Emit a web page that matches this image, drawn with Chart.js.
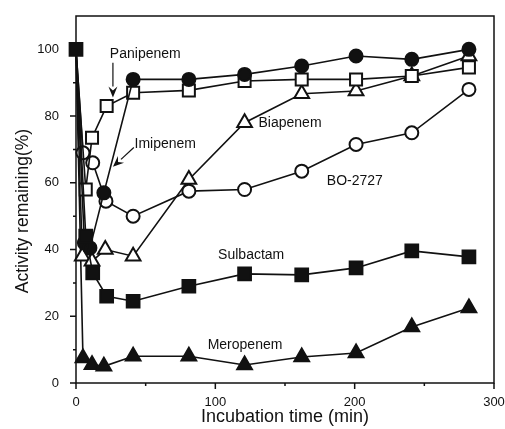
<!DOCTYPE html>
<html>
<head>
<meta charset="utf-8">
<script src="https://cdn.jsdelivr.net/npm/chart.js@4.4.1/dist/chart.umd.min.js"></script>
<style>
  html, body { margin: 0; padding: 0; background: #fff; }
  canvas { display: block; }
</style>
</head>
<body>
<canvas id="chart" width="505" height="429"></canvas>
<script>
// Incubation time (min) and activity remaining (%)
const sulbactamT = [0, 7, 12, 22, 41, 81, 121, 162, 201, 241, 282];
const sulbactamV = [100, 44, 33, 26, 24.5, 29, 32.7, 32.4, 34.5, 39.6, 37.8];

const imipenemT = [0, 6, 10, 20, 41, 81, 121, 162, 201, 241, 282];
const imipenemV = [100, 42, 40.5, 57, 91, 91, 92.5, 95, 98, 97, 100];

const panipenemT = [0, 7, 11.5, 22, 41, 81, 121, 162, 201, 241, 282];
const panipenemV = [100, 58, 73.5, 83, 87, 87.7, 90.5, 91, 91, 92, 94.6];

const biapenemT = [0, 4.5, 11.5, 21, 41, 81, 121, 162, 201, 241, 282];
const biapenemV = [100, 38, 36.5, 40, 38, 61, 78, 86.7, 87.5, 92, 98];

const bo2727T = [0, 5, 12, 21.5, 41, 81, 121, 162, 201, 241, 282];
const bo2727V = [100, 69, 66, 54.5, 50, 57.5, 58, 63.5, 71.5, 75, 88];

const meropenemT = [0, 5, 11.5, 20, 41, 81, 121, 162, 201, 241, 282];
const meropenemV = [100, 7.5, 5.5, 5, 8, 8, 5.4, 7.8, 9, 16.8, 22.5];

const yTickValues = [0, 20, 40, 60, 80, 100];
const xTickValues = [0, 100, 200, 300];

// labels written inside the plot (data coordinates)
const notes = [
    { text: 'Panipenem', x: 24.3, y: 98.5 },
    { text: 'Imipenem', x: 42, y: 71.5 },
    { text: 'Biapenem', x: 131, y: 77.8 },
    { text: 'BO-2727', x: 180, y: 60.4 },
    { text: 'Sulbactam', x: 102, y: 38.4 },
    { text: 'Meropenem', x: 94.5, y: 11.4 }
];
// arrows: from (x1,y1) to tip (x2,y2)
const arrows = [
    { x1: 26.5, y1: 96, x2: 26.5, y2: 85.6 },
    { x1: 41.5, y1: 70.6, x2: 26.5, y2: 64.8 }
];

const ink = '#111';
const fontName = "'Liberation Sans', Arial, sans-serif";

function toPoints(ts, vs) {
    return ts.map((t, i) => ({ x: t, y: vs[i] }));
}

// only sulbactam shows its marker at time 0, the others just start their line there
function series(label, ts, vs, style, filled, radius, showStart) {
    return {
        label: label,
        data: toPoints(ts, vs),
        showLine: true,
        borderColor: ink,
        borderWidth: 1.6,
        pointStyle: style,
        pointRadius: c => (c.dataIndex === 0 && !showStart) ? 0 : radius,
        pointBorderWidth: 2,
        pointBorderColor: ink,
        pointBackgroundColor: filled ? ink : '#fff',
        clip: false
    };
}

// frame, tick marks, y title, notes and arrows
const extras = {
    id: 'extras',
    beforeDatasetsDraw(chart) {
        const ctx = chart.ctx;
        const a = chart.chartArea;
        const xs = chart.scales.x, ys = chart.scales.y;
        ctx.save();
        ctx.strokeStyle = ink;
        ctx.lineWidth = 1.5;
        ctx.strokeRect(a.left, a.top, a.right - a.left, a.bottom - a.top);
        ctx.beginPath();
        for (let v = 0; v <= 100; v += 10) {
            const y = ys.getPixelForValue(v);
            const len = v % 20 === 0 ? 6 : 3;
            ctx.moveTo(a.left - len, y);
            ctx.lineTo(a.left, y);
        }
        for (let v = 0; v <= 300; v += 50) {
            const x = xs.getPixelForValue(v);
            const len = v % 100 === 0 ? 6 : 3;
            ctx.moveTo(x, a.bottom);
            ctx.lineTo(x, a.bottom + len);
        }
        ctx.stroke();

        // y axis title
        ctx.fillStyle = ink;
        ctx.font = '17.5px ' + fontName;
        ctx.textAlign = 'center';
        ctx.textBaseline = 'middle';
        ctx.translate(23, 211);
        ctx.rotate(-Math.PI / 2);
        ctx.fillText('Activity remaining(%)', 0, 0);
        ctx.restore();
    },
    afterDraw(chart) {
        const ctx = chart.ctx;
        const xs = chart.scales.x, ys = chart.scales.y;
        ctx.save();
        ctx.fillStyle = ink;
        ctx.strokeStyle = ink;
        ctx.font = '14px ' + fontName;
        ctx.textAlign = 'left';
        ctx.textBaseline = 'middle';
        notes.forEach(n => {
            ctx.fillText(n.text, xs.getPixelForValue(n.x), ys.getPixelForValue(n.y));
        });
        ctx.lineWidth = 1.2;
        arrows.forEach(ar => {
            const x1 = xs.getPixelForValue(ar.x1), y1 = ys.getPixelForValue(ar.y1);
            const x2 = xs.getPixelForValue(ar.x2), y2 = ys.getPixelForValue(ar.y2);
            const ang = Math.atan2(y2 - y1, x2 - x1);
            const headLen = 11, headW = 4.5;
            const bx = x2 - Math.cos(ang) * headLen, by = y2 - Math.sin(ang) * headLen;
            ctx.beginPath();
            ctx.moveTo(x1, y1);
            ctx.lineTo(bx, by);
            ctx.stroke();
            ctx.beginPath();
            ctx.moveTo(x2, y2);
            ctx.lineTo(bx - Math.sin(ang) * headW, by + Math.cos(ang) * headW);
            ctx.lineTo(x2 - Math.cos(ang) * (headLen - 4), y2 - Math.sin(ang) * (headLen - 4));
            ctx.lineTo(bx + Math.sin(ang) * headW, by - Math.cos(ang) * headW);
            ctx.closePath();
            ctx.fill();
        });
        ctx.restore();
    }
};

const ctx = document.getElementById('chart').getContext('2d');
new Chart(ctx, {
    type: 'scatter',
    data: {
        datasets: [
            series('Sulbactam', sulbactamT, sulbactamV, 'rect', true, 9, true),
            series('Imipenem', imipenemT, imipenemV, 'circle', true, 6.5),
            series('Panipenem', panipenemT, panipenemV, 'rect', false, 8.5),
            series('Biapenem', biapenemT, biapenemV, 'triangle', false, 8.5),
            series('BO-2727', bo2727T, bo2727V, 'circle', false, 6.5),
            series('Meropenem', meropenemT, meropenemV, 'triangle', true, 8.5)
        ]
    },
    options: {
        responsive: false,
        animation: false,
        devicePixelRatio: 1,
        layout: { padding: { left: 0, right: 10, top: 16, bottom: 0 } },
        plugins: {
            legend: { display: false },
            tooltip: { enabled: false }
        },
        scales: {
            x: {
                type: 'linear',
                min: 0,
                max: 300,
                grid: { display: false, drawTicks: false },
                border: { display: false },
                afterBuildTicks: s => { s.ticks = xTickValues.map(v => ({ value: v })); },
                afterFit: s => {
                    s.height = 46;
                    s.paddingLeft = 0;
                    s.paddingRight = 0;
                },
                ticks: {
                    color: ink,
                    padding: 12,
                    maxRotation: 0,
                    font: { family: fontName, size: 13 }
                },
                title: {
                    display: true,
                    text: 'Incubation time (min)',
                    color: ink,
                    padding: { top: 0, bottom: 1 },
                    font: { family: fontName, size: 18 }
                }
            },
            y: {
                type: 'linear',
                min: 0,
                max: 110,
                grid: { display: false, drawTicks: false },
                border: { display: false },
                afterBuildTicks: s => { s.ticks = yTickValues.map(v => ({ value: v })); },
                afterFit: s => {
                    s.width = 76;
                    s.paddingTop = 0;
                    s.paddingBottom = 0;
                },
                ticks: {
                    color: ink,
                    padding: 17,
                    font: { family: fontName, size: 13 }
                }
            }
        }
    },
    plugins: [extras]
});
</script>
</body>
</html>
